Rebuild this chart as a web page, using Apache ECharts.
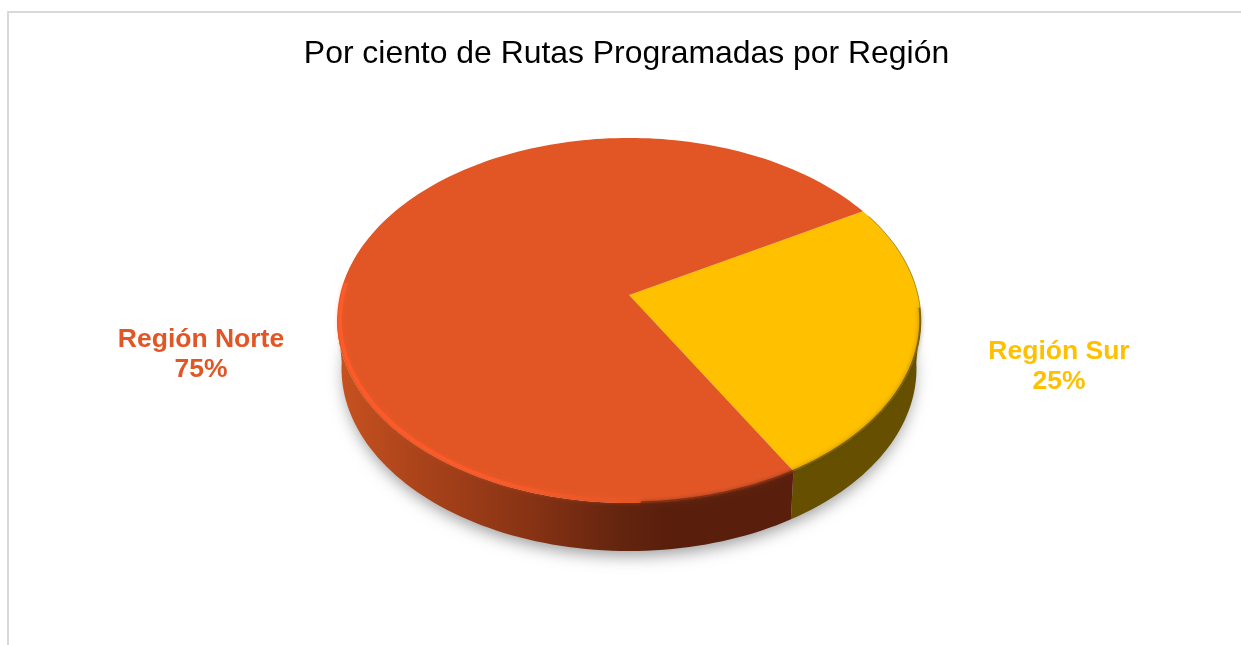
<!DOCTYPE html>
<html><head><meta charset="utf-8">
<style>html,body{margin:0;padding:0;background:#fff}#c{width:1241px;height:645px}</style>
<script src="https://cdn.jsdelivr.net/npm/echarts@6/dist/echarts.min.js"></script>
</head><body><div id="c"></div>
<script>
const chartTitle = 'Por ciento de Rutas Programadas por Región';
const categories = ['Región Sur', 'Región Norte'];
const percents = [25, 75];

// appearance and layout, kept apart from the data
const faceColors = ['#FFC000', '#E25626'];
const startAngle = 30;
const labelAnchors = [[1059, 367], [201, 355]];
const CX = 629, CY = 295, A = 289, B = 179, K = 0.1397, DEPTH = 48, BOTTOM_SCALE = 0.985;

function proj(deg, r, level) {
  const t = deg * Math.PI / 180;
  const u = r * Math.cos(t), v = -r * Math.sin(t), w = 1 - K * v;
  const s = level ? BOTTOM_SCALE : 1;
  return [CX + s * A * u / w, CY + B * v / w + (level ? DEPTH : 0)];
}
function arc(a0, a1, r, level) {
  const pts = [], n = Math.max(2, Math.ceil(Math.abs(a1 - a0) / 1.5));
  for (let i = 0; i <= n; i++) pts.push(proj(a0 + (a1 - a0) * i / n, r, level));
  return pts;
}
const G = echarts.graphic.LinearGradient;
const wallFills = [
  '#665000',
  new G(336, 0, 790, 0, [
    {offset: 0, color: '#c8521f'}, {offset: 0.2, color: '#a8421a'},
    {offset: 0.45, color: '#843113'}, {offset: 0.62, color: '#64250f'},
    {offset: 0.72, color: '#5a1f0c'}, {offset: 1, color: '#5a1f0c'}], true)
];

function renderItem(params, api) {
  const i = params.dataIndex;
  let before = 0, total = 0;
  for (let k = 0; k < percents.length; k++) { if (k < i) before += percents[k]; total += percents[k]; }
  // slices run clockwise from the start angle
  const val = api.value(0);
  const a0 = startAngle - before / total * 360;
  const a1 = a0 - val / total * 360;
  const children = [];

  if (i === 0) {
    children.push({
      type: 'polygon', z2: 0,
      shape: {points: arc(0, 360, 0.99, 1)},
      style: {fill: '#cccccc', shadowBlur: 16, shadowColor: 'rgba(130,130,130,0.8)', shadowOffsetY: 7}
    });
  }
  // visible side wall: only the front of the rim, between its widest points
  let w0 = Math.min(a0, a1), w1 = Math.max(a0, a1);
  const ranges = [[w0, w1], [w0 + 360, w1 + 360], [w0 - 360, w1 - 360]];
  ranges.forEach(function (rg) {
    const s = Math.max(rg[0], 186), e = Math.min(rg[1], 354);
    if (e > s) {
      children.push({
        type: 'polygon', z2: 1,
        shape: {points: arc(s, e, 1, 0).concat(arc(e, s, 1, 1))},
        style: {fill: wallFills[i]}
      });
    }
  });
  // top face
  children.push({
    type: 'polygon', z2: 2,
    shape: {points: [[CX, CY]].concat(arc(a0, a1, 1, 0))},
    style: {fill: faceColors[i]}
  });
  // rim bevels
  if (i === 0) {
    children.push({
      type: 'polyline', z2: 3,
      shape: {points: arc(a0 - 2, a0 - 34, 1, 0)},
      style: {fill: null, stroke: 'rgba(95,75,0,0.55)', lineWidth: 1}
    });
    children.push({
      type: 'polyline', z2: 3,
      shape: {points: arc(a0 - 34, a1, 0.998, 0)},
      style: {fill: null, stroke: 'rgba(95,75,0,0.75)', lineWidth: 2, shadowBlur: 4, shadowColor: 'rgba(95,75,0,0.8)'}
    });
  } else {
    children.push({
      type: 'polyline', z2: 3,
      shape: {points: arc(176, 272, 0.99, 0)},
      style: {fill: null, lineWidth: 3.5, shadowBlur: 4, shadowColor: 'rgba(255,90,40,0.5)',
        stroke: new G(337, 0, 650, 0, [
          {offset: 0, color: '#ff5a28'}, {offset: 0.5, color: '#fb5a2a'}, {offset: 1, color: '#e25626'}], true)}
    });
    children.push({
      type: 'polyline', z2: 3,
      shape: {points: arc(272, 300, 1, 0)},
      style: {fill: null, lineWidth: 3, stroke: 'rgba(110,40,15,0.75)', shadowBlur: 4, shadowColor: 'rgba(110,40,15,0.8)'}
    });
  }
  // label
  children.push({
    type: 'text', z2: 5,
    x: labelAnchors[i][0], y: labelAnchors[i][1],
    style: {
      text: categories[i] + '\n' + val + '%',
      align: 'center', verticalAlign: 'middle', lineHeight: 30,
      fontFamily: '"Liberation Sans", Arial, sans-serif', fontSize: 26.5, fontWeight: 'bold',
      fill: faceColors[i]
    }
  });
  return {type: 'group', children: children};
}

const chart = echarts.init(document.getElementById('c'), null, {renderer: 'canvas'});
chart.setOption({
  animation: false,
  backgroundColor: '#ffffff',
  title: {
    text: chartTitle, left: 621.5, top: 33, textAlign: 'center',
    textStyle: {fontFamily: '"Liberation Sans", Arial, sans-serif', fontSize: 31.9, fontWeight: 'normal', color: '#000000'}
  },
  graphic: [{
    type: 'polyline', silent: true, z: -1,
    shape: {points: [[8, 645], [8, 12], [1241, 12]]},
    style: {fill: null, stroke: '#d9d9d9', lineWidth: 2}
  }],
  series: [{
    type: 'custom',
    coordinateSystem: 'none',
    renderItem: renderItem,
    encode: {value: 0},
    data: percents.map((p, i) => ({name: categories[i], value: [p, i]}))
  }]
});
</script></body></html>
